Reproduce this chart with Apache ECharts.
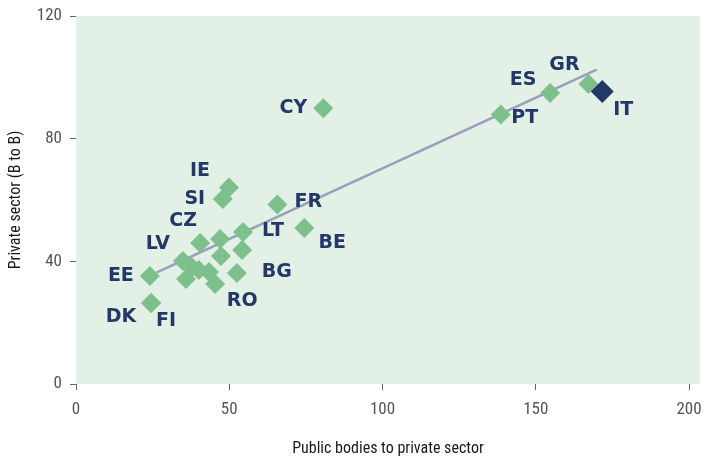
<!DOCTYPE html>
<html>
<head>
<meta charset="utf-8">
<script src="https://cdn.jsdelivr.net/npm/echarts@6/dist/echarts.min.js"></script>
<style>
  html, body { margin: 0; padding: 0; background: #fff; }
  #chart { width: 706px; height: 459px; }
</style>
</head>
<body>
<div id="chart"></div>
<script>
// country codes ('' = unlabelled point)
const countries = ["CY", "ES", "GR", "PT", "IT", "IE", "SI", "FR", "BE", "LT", "CZ", "LV", "EE", "BG", "RO", "DK", "FI", "", "", "", "", "", "", ""];
// public bodies to private sector
const publicValues = [80.7, 154.7, 167.2, 138.6, 171.7, 49.9, 47.9, 65.7, 74.5, 54.5, 40.5, 34.9, 24.1, 52.5, 45.4, 24.5, 24.5, 47.0, 47.3, 54.2, 35.9, 40.1, 43.4, 37.8];
// private sector (B to B)
const privateValues = [89.9, 94.9, 97.8, 87.9, 95.4, 64.1, 60.3, 58.5, 50.9, 49.6, 46.0, 40.1, 35.2, 36.2, 32.6, 26.4, 26.4, 47.3, 41.7, 43.7, 34.2, 37.2, 36.5, 38.1];
const highlight = "IT";

// trend line end points and fit
const trendX = [26.4, 169.9];
const trendY = [36.4, 102.5];
const r2Text = "R\u00b2 = 0,8316";
const r2At = [159.2, 63.6];

const xTicks = [0, 50, 100, 150, 200];

// where each country label sits relative to its marker (px)
const labelOffset = {
  CY: [-30, 0], ES: [-27, -13], GR: [-24, -19], PT: [24, 4], IT: [21, 19],
  IE: [-29, -16], SI: [-28, 0], FR: [31, -3], BE: [28, 15], LT: [30, -1],
  CZ: [-17, -22], LV: [-25, -17], EE: [-29, 0], BG: [40, -1], RO: [27, 17],
  DK: [-30, 14], FI: [15, 18]
};

const navy = "#243868";
const green = "#7dc08b";
const labelFont = "DejaVu Sans";
const axisFont = "'Liberation Sans Narrow', 'Arial Narrow', 'Roboto Condensed', sans-serif";

const points = countries.map((c, i) => {
  const isHi = c === highlight;
  return {
    name: c,
    value: [publicValues[i], privateValues[i]],
    symbolSize: isHi ? 23 : 20,
    itemStyle: { color: isHi ? navy : green, opacity: 1 },
    label: {
      show: c !== "",
      formatter: c,
      position: "inside",
      offset: labelOffset[c] || [0, 0]
    },
    z: isHi ? 5 : 3
  };
});

const chart = echarts.init(document.getElementById("chart"));

chart.setOption({
  animation: false,
  grid: {
    left: 76,
    right: 6,
    top: 16,
    bottom: 75,
    show: true,
    backgroundColor: "#e3f0e6",
    borderWidth: 0,
    outerBoundsMode: "none"
  },
  xAxis: {
    type: "value",
    min: 0,
    max: 203.6,
    offset: 2,
    name: "Public bodies to private sector",
    nameLocation: "middle",
    nameGap: 55,
    nameTextStyle: { fontFamily: axisFont, fontSize: 16, color: "#1a1a1a" },
    splitLine: { show: false },
    axisLine: { show: false },
    axisTick: { show: true, length: 6, customValues: xTicks, lineStyle: { color: "#666" } },
    axisLabel: { customValues: xTicks, margin: 15, fontFamily: axisFont, fontSize: 17, color: "#555" }
  },
  yAxis: {
    type: "value",
    min: 0,
    max: 120,
    interval: 40,
    offset: 2,
    name: "Private sector (B to B)",
    nameLocation: "middle",
    nameGap: 50,
    nameTextStyle: { fontFamily: axisFont, fontSize: 16, color: "#1a1a1a" },
    splitLine: { show: false },
    axisLine: { show: false },
    axisTick: { show: true, length: 6, lineStyle: { color: "#666" } },
    axisLabel: { margin: 12, fontFamily: axisFont, fontSize: 17, color: "#555" }
  },
  series: [
    {
      type: "line",
      data: trendX.map((x, i) => [x, trendY[i]]),
      symbol: "none",
      z: 2,
      lineStyle: { color: "#989ebb", width: 2.5 },
      markPoint: {
        symbol: "none",
        data: [{ coord: r2At, value: r2Text }],
        label: {
          show: true,
          formatter: r2Text,
          position: "inside",
          fontFamily: labelFont,
          fontWeight: "bold",
          fontSize: 15,
          color: navy
        }
      }
    },
    {
      type: "scatter",
      symbol: "diamond",
      z: 3,
      data: points,
      itemStyle: { opacity: 1 },
      label: {
        fontFamily: labelFont,
        fontWeight: "bold",
        fontSize: 19,
        color: navy
      }
    }
  ]
});
</script>
</body>
</html>
